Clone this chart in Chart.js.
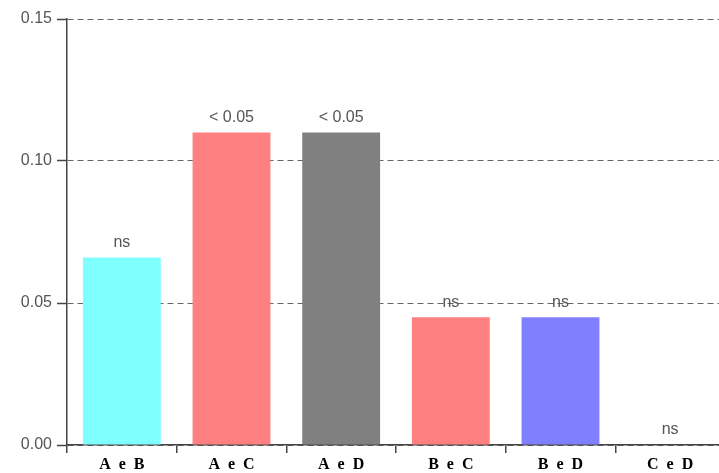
<!DOCTYPE html>
<html>
<head>
<meta charset="utf-8">
<script src="https://cdn.jsdelivr.net/npm/chart.js@4/dist/chart.umd.min.js"></script>
<style>
  html, body { margin: 0; padding: 0; background: #fff; overflow: hidden; }
  #wrap { position: absolute; left: 0; top: 0; width: 726px; height: 473px; }
</style>
</head>
<body>
<div id="wrap"><canvas id="c" width="726" height="473"></canvas></div>
<script>
// Pairwise comparisons and their values
const categories = ['A e B', 'A e C', 'A e D', 'B e C', 'B e D', 'C e D'];
const values = [0.066, 0.110, 0.110, 0.045, 0.045, 0.000];
const significance = ['ns', '< 0.05', '< 0.05', 'ns', 'ns', 'ns'];
const barColors = ['#80ffff', '#ff8080', '#808080', '#ff8080', '#8080ff', '#ffffff'];
const yTicks = [0.00, 0.05, 0.10, 0.15];

// Writes the significance text above each bar
const significanceLabels = {
  id: 'significanceLabels',
  afterDatasetsDraw(chart) {
    const ctx = chart.ctx;
    const meta = chart.getDatasetMeta(0);
    ctx.save();
    ctx.font = '16px "Liberation Sans", Arial, sans-serif';
    ctx.fillStyle = '#555';
    ctx.textAlign = 'center';
    ctx.textBaseline = 'middle';
    meta.data.forEach((bar, i) => {
      ctx.fillText(significance[i], bar.x, bar.y - 15);
    });
    ctx.restore();
  }
};

new Chart(document.getElementById('c'), {
  type: 'bar',
  data: {
    labels: categories,
    datasets: [{
      data: values,
      backgroundColor: barColors,
      borderWidth: 0,
      categoryPercentage: 1.0,
      barPercentage: 0.71
    }]
  },
  options: {
    responsive: false,
    animation: false,
    devicePixelRatio: 1,
    layout: { padding: { top: 19, right: 1, left: 0, bottom: 0 } },
    plugins: {
      legend: { display: false },
      tooltip: { enabled: false }
    },
    scales: {
      x: {
        type: 'category',
        offset: true,
        afterFit(scale) { scale.height = 28; },
        border: { display: true, color: '#444', width: 1.5 },
        grid: {
          offset: true,
          drawOnChartArea: false,
          drawTicks: true,
          tickLength: 8,
          color: '#444',
          lineWidth: 1.5
        },
        ticks: {
          color: '#000',
          padding: 2,
          font: { family: '"Liberation Serif", "Times New Roman", serif', size: 16, weight: 'bold' },
          // wide letter spacing in the pair names
          callback(v, i) { return categories[i].split(' ').join('  '); }
        }
      },
      y: {
        min: 0,
        max: 0.15,
        afterFit(scale) { scale.width = 67; },
        afterBuildTicks(scale) { scale.ticks = yTicks.map(v => ({ value: v })); },
        border: { display: true, color: '#444', width: 1.5, dash: [6, 4] },
        grid: {
          color: '#666',
          lineWidth: 1,
          tickLength: 10,
          tickColor: '#444',
          tickBorderDash: [],
          tickWidth: 1.5
        },
        ticks: {
          color: '#555',
          padding: 5,
          font: { family: '"Liberation Sans", Arial, sans-serif', size: 16 },
          callback: v => Number(v).toFixed(2)
        }
      }
    }
  },
  plugins: [significanceLabels]
});
</script>
</body>
</html>
